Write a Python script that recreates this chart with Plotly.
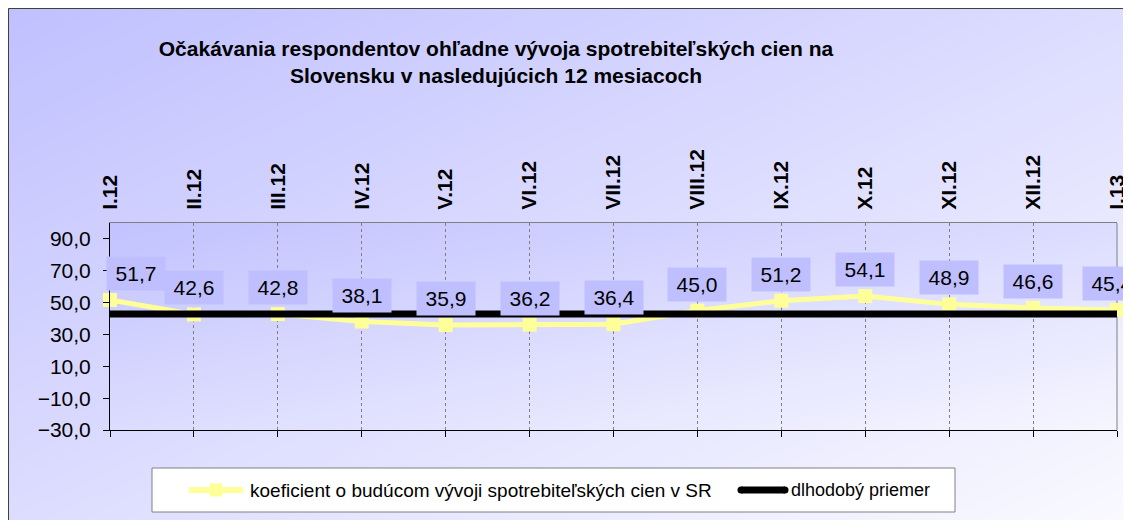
import urllib.parse
import plotly.graph_objects as go

# ---- data ----
months = ['I.12', 'II.12', 'III.12', 'IV.12', 'V.12', 'VI.12', 'VII.12',
          'VIII.12', 'IX.12', 'X.12', 'XI.12', 'XII.12', 'I.13']
coef = [51.7, 42.6, 42.8, 38.1, 35.9, 36.2, 36.4, 45.0, 51.2, 54.1, 48.9, 46.6, 45.4]
long_avg = [42.8] * len(months)
y_ticks = [-30, -10, 10, 30, 50, 70, 90]

name_coef = 'koeficient o budúcom vývoji spotrebiteľských cien v SR'
name_avg = 'dlhodobý priemer'
title = ('Očakávania respondentov ohľadne vývoja spotrebiteľských cien na<br>'
         'Slovensku v nasledujúcich 12 mesiacoch')

# ---- geometry (figure pixels) ----
W, H = 1131, 520
L, T, PW, PH = 102, 215, 1007, 207
R, B = W - L - PW, H - T - PH
FONT = 'Arial, Liberation Sans, sans-serif'
YELLOW = '#FFFF99'
LABEL_BG = '#BFBFFF'
GRID = '#808080'


def px(x):
    return (x - L) / PW


def py(y):
    return (H - B - y) / PH


def gradient(c0, c1):
    svg = ('<svg xmlns="http://www.w3.org/2000/svg" width="100" height="100" '
           'preserveAspectRatio="none" viewBox="0 0 100 100">'
           '<defs><linearGradient id="g" x1="0" y1="0" x2="1" y2="1">'
           f'<stop offset="0" stop-color="{c0}"/><stop offset="1" stop-color="{c1}"/>'
           '</linearGradient></defs><rect width="100" height="100" fill="url(#g)"/></svg>')
    return 'data:image/svg+xml;charset=utf-8,' + urllib.parse.quote(svg)


fig = go.Figure()

fig.add_trace(go.Scatter(
    x=months, y=coef, name=name_coef, mode='lines+markers',
    line=dict(color=YELLOW, width=5),
    marker=dict(symbol='square', size=14, color=YELLOW),
    cliponaxis=False, xaxis='x', yaxis='y',
))
fig.add_trace(go.Scatter(
    x=months, y=long_avg, name=name_avg, mode='lines',
    line=dict(color='black', width=7),
    xaxis='x2', yaxis='y',
))

# data labels
annotations = []
last = len(months) - 1
for i, (m, v) in enumerate(zip(months, coef)):
    annotations.append(dict(
        x=m, y=v, xref='x', yref='y',
        text=f'{v:.1f}'.replace('.', ','),
        showarrow=False,
        xanchor='left' if i == 0 else 'center',
        xshift=-4 if i == 0 else (-5 if i == last else 0),
        yanchor='bottom', yshift=9,
        bgcolor=LABEL_BG, borderpad=4, width=50, height=25,
        font=dict(family=FONT, size=21, color='black'),
    ))

# legend (drawn by hand to match the boxed layout)
LEG_Y = 482
annotations += [
    dict(xref='paper', yref='paper', x=px(240), y=py(LEG_Y), xanchor='left',
         yanchor='middle', text=name_coef, showarrow=False,
         font=dict(family=FONT, size=19, color='black')),
    dict(xref='paper', yref='paper', x=px(781), y=py(LEG_Y), xanchor='left',
         yanchor='middle', text=name_avg, showarrow=False,
         font=dict(family=FONT, size=18, color='black')),
]

images = [
    # chart area background
    dict(source=gradient('#C0C0FF', '#FAFAFF'), xref='paper', yref='paper',
         x=px(0), y=py(0), sizex=px(W) - px(0), sizey=py(0) - py(H),
         xanchor='left', yanchor='top', sizing='stretch', layer='below'),
    # plot area background
    dict(source=gradient('#C2C2FF', '#F6F6FF'), xref='paper', yref='paper',
         x=0, y=1, sizex=1, sizey=1,
         xanchor='left', yanchor='top', sizing='stretch', layer='below'),
]

shapes = [
    # chart border
    dict(type='rect', xref='paper', yref='paper', x0=px(0.5), y0=py(H - 0.5),
         x1=px(W - 0.5), y1=py(0.5), line=dict(color='#404040', width=1), layer='below'),
    # plot area right border
    dict(type='line', xref='paper', yref='paper', x0=1, x1=1, y0=0, y1=1,
         line=dict(color=GRID, width=1), layer='below'),
    # legend box
    dict(type='rect', xref='paper', yref='paper', x0=px(144), x1=px(947),
         y0=py(504), y1=py(460), fillcolor='white',
         line=dict(color=GRID, width=1), layer='above'),
    # legend samples
    dict(type='line', xref='paper', yref='paper', x0=px(181), x1=px(235),
         y0=py(LEG_Y), y1=py(LEG_Y), line=dict(color=YELLOW, width=6), layer='above'),
    dict(type='rect', xref='paper', yref='paper', x0=px(201.5), x1=px(214.5),
         y0=py(LEG_Y + 6.5), y1=py(LEG_Y - 6.5), fillcolor=YELLOW,
         line=dict(width=0), layer='above'),
    dict(type='line', xref='paper', yref='paper', x0=px(733), x1=px(777),
         y0=py(LEG_Y), y1=py(LEG_Y), line=dict(color='black', width=7), layer='above'),
    dict(type='circle', xref='paper', yref='paper', x0=px(729.5), x1=px(736.5),
         y0=py(LEG_Y + 3.5), y1=py(LEG_Y - 3.5), fillcolor='black',
         line=dict(width=0), layer='above'),
    dict(type='circle', xref='paper', yref='paper', x0=px(773.5), x1=px(780.5),
         y0=py(LEG_Y + 3.5), y1=py(LEG_Y - 3.5), fillcolor='black',
         line=dict(width=0), layer='above'),
]

fig.update_layout(
    width=W, height=H,
    margin=dict(l=L, r=R, t=T, b=B),
    paper_bgcolor='white',
    plot_bgcolor='rgba(0,0,0,0)',
    separators=', ',
    font=dict(family=FONT, size=21, color='black'),
    title=dict(text=title, xref='container', yref='container',
               x=488 / W, xanchor='center', y=1 - 48 / H, yanchor='top',
               font=dict(family=FONT, size=21, color='black', weight='bold')),
    xaxis=dict(
        type='category', categoryorder='array', categoryarray=months,
        range=[0, len(months) - 1], side='top', tickangle=-90,
        tickfont=dict(family=FONT, size=21, weight='bold'),
        ticks='', ticklabelstandoff=8,
        showgrid=True, gridcolor=GRID, griddash='dot', gridwidth=1,
        showline=True, linecolor=GRID, linewidth=1,
        zeroline=False, fixedrange=True,
    ),
    xaxis2=dict(
        type='category', categoryorder='array', categoryarray=months,
        range=[0, len(months) - 1], overlaying='x', side='bottom',
        showticklabels=False, ticks='outside', ticklen=6, tickcolor='black',
        showgrid=False, showline=True, linecolor='black', linewidth=1,
        zeroline=False,
    ),
    yaxis=dict(
        range=[-30, 100], tickvals=y_ticks, tickformat='.1f',
        ticks='outside', ticklen=6, tickcolor='black', ticklabelstandoff=8,
        showgrid=False, zeroline=False,
        showline=True, linecolor='black', linewidth=1,
        tickfont=dict(family=FONT, size=21),
    ),
    showlegend=False,
    annotations=annotations,
    images=images,
    shapes=shapes,
)

fig.write_html('out.html')
